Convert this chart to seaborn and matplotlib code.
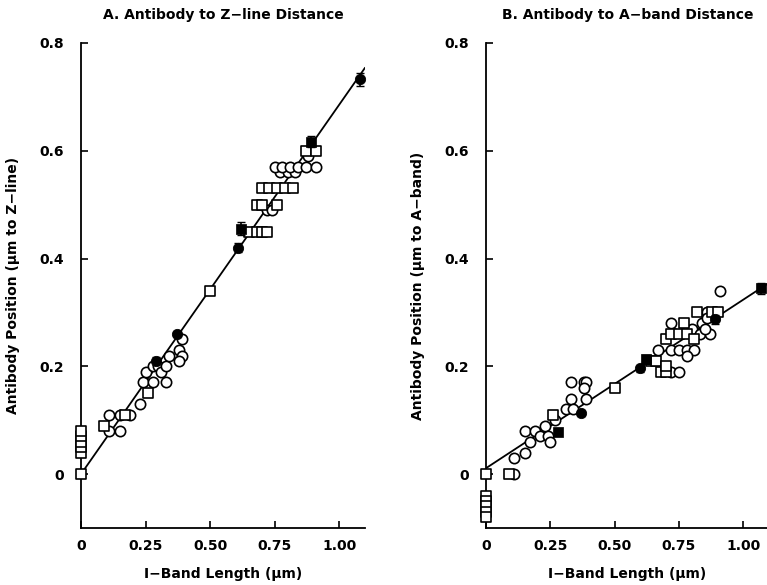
import pandas as pd
import seaborn as sns
import matplotlib.pyplot as plt

# Panel A: antibody to Z-line distance
a_open_circle_x = [0.11, 0.11, 0.15, 0.15, 0.19, 0.23, 0.24, 0.28, 0.25, 0.28, 0.30, 0.31,
                   0.33, 0.33, 0.34, 0.39, 0.38, 0.39, 0.38,
                   0.72, 0.74, 0.77, 0.80, 0.83, 0.75, 0.78, 0.81, 0.84, 0.87, 0.91, 0.88]
a_open_circle_y = [0.11, 0.08, 0.08, 0.11, 0.11, 0.13, 0.17, 0.17, 0.19, 0.20, 0.20, 0.19,
                   0.17, 0.20, 0.22, 0.25, 0.23, 0.22, 0.21,
                   0.49, 0.49, 0.56, 0.56, 0.56, 0.57, 0.57, 0.57, 0.57, 0.57, 0.57, 0.59]
a_open_square_x = [0, 0, 0, 0, 0, 0, 0.09, 0.17, 0.26, 0.50,
                   0.65, 0.68, 0.70, 0.72, 0.68, 0.70, 0.76, 0.70, 0.73, 0.76, 0.79, 0.82,
                   0.87, 0.91]
a_open_square_y = [0, 0.04, 0.05, 0.06, 0.07, 0.08, 0.09, 0.11, 0.15, 0.34,
                   0.45, 0.45, 0.45, 0.45, 0.50, 0.50, 0.50, 0.53, 0.53, 0.53, 0.53, 0.53,
                   0.60, 0.60]
a_filled_circle_x = [0.29, 0.37, 0.61, 1.08]
a_filled_circle_y = [0.21, 0.26, 0.42, 0.733]
a_filled_circle_err = [0.008, 0.006, 0.008, 0.012]
a_filled_square_x = [0.62, 0.89]
a_filled_square_y = [0.455, 0.617]
a_filled_square_err = [0.012, 0.01]
a_fit_x = [0, 1.1]
a_fit_y = [0, 0.754]

# Panel B: antibody to A-band distance
b_open_circle_x = [0.11, 0.11, 0.15, 0.17, 0.15, 0.19, 0.21, 0.23, 0.24, 0.25, 0.27, 0.31,
                   0.33, 0.33, 0.34, 0.38, 0.39, 0.38, 0.39,
                   0.72, 0.75, 0.67, 0.72, 0.72, 0.75, 0.78, 0.81, 0.78, 0.80, 0.86, 0.84,
                   0.83, 0.87, 0.85, 0.86, 0.91]
b_open_circle_y = [0.0, 0.03, 0.04, 0.06, 0.08, 0.08, 0.07, 0.09, 0.07, 0.06, 0.10, 0.12,
                   0.14, 0.17, 0.12, 0.17, 0.17, 0.16, 0.14,
                   0.19, 0.19, 0.23, 0.28, 0.23, 0.23, 0.23, 0.23, 0.22, 0.27, 0.30, 0.28,
                   0.26, 0.26, 0.27, 0.29, 0.34]
b_open_square_x = [0, 0, 0, 0, 0, 0, 0.09, 0.26, 0.50, 0.64, 0.66,
                   0.68, 0.70, 0.70, 0.70, 0.72, 0.75, 0.78, 0.77, 0.81, 0.82, 0.88, 0.90]
b_open_square_y = [0, -0.04, -0.05, -0.06, -0.07, -0.08, 0.0, 0.11, 0.16, 0.21, 0.21,
                   0.19, 0.19, 0.20, 0.25, 0.26, 0.26, 0.26, 0.28, 0.25, 0.30, 0.30, 0.30]
b_filled_circle_x = [0.37, 0.60, 0.89]
b_filled_circle_y = [0.113, 0.196, 0.287]
b_filled_circle_err = [0.006, 0.006, 0.008]
b_filled_square_x = [0.28, 0.62, 1.07]
b_filled_square_y = [0.078, 0.213, 0.345]
b_filled_square_err = [0.006, 0.008, 0.01]
b_fit_x = [0, 1.1]
b_fit_y = [0.011, 0.355]

xticks = [0, 0.25, 0.5, 0.75, 1.0]
xtick_labels = ["0", "0.25", "0.50", "0.75", "1.00"]
yticks = [0, 0.2, 0.4, 0.6, 0.8]
ytick_labels = ["0", "0.2", "0.4", "0.6", "0.8"]

sns.set_style("ticks")
plt.rcParams['font.family'] = ['DejaVu Sans']
plt.rcParams['font.weight'] = 'bold'
plt.rcParams['text.color'] = 'black'
plt.rcParams['axes.labelcolor'] = 'black'
plt.rcParams['xtick.color'] = 'black'
plt.rcParams['ytick.color'] = 'black'

fig = plt.figure(figsize=(7.67, 5.85), dpi=100)
ax_a = fig.add_axes([81 / 767, 57 / 585, 284 / 767, 485 / 585])
ax_b = fig.add_axes([486 / 767, 57 / 585, 283 / 767, 485 / 585])


def draw_panel(ax, oc_x, oc_y, os_x, os_y, fc_x, fc_y, fc_e, fs_x, fs_y, fs_e,
               fit_x, fit_y, title, ylabel):
    sns.lineplot(x=fit_x, y=fit_y, ax=ax, color='black', lw=1.3, zorder=2)
    sns.scatterplot(x=oc_x, y=oc_y, ax=ax, marker='o', s=55, facecolor='white',
                    edgecolor='black', linewidth=1.2, zorder=3, clip_on=False)
    sns.scatterplot(x=os_x, y=os_y, ax=ax, marker='s', s=42, facecolor='white',
                    edgecolor='black', linewidth=1.2, zorder=3, clip_on=False)
    ax.errorbar(fc_x, fc_y, yerr=fc_e, fmt='none', ecolor='black', elinewidth=1.2,
                capsize=3, zorder=4)
    sns.scatterplot(x=fc_x, y=fc_y, ax=ax, marker='o', s=55, color='black',
                    edgecolor='black', zorder=5, clip_on=False)
    ax.errorbar(fs_x, fs_y, yerr=fs_e, fmt='none', ecolor='black', elinewidth=1.2,
                capsize=3, zorder=4)
    sns.scatterplot(x=fs_x, y=fs_y, ax=ax, marker='s', s=42, color='black',
                    edgecolor='black', zorder=5, clip_on=False)

    ax.set_xlim(0, 1.1)
    ax.set_ylim(-0.1, 0.8)
    ax.set_xticks(xticks)
    ax.set_xticklabels(xtick_labels)
    ax.set_yticks(yticks)
    ax.set_yticklabels(ytick_labels)
    ax.tick_params(direction='in', length=5, width=1.2, labelsize=10, color='black',
                   labelcolor='black')
    ax.tick_params(axis='y', pad=12)
    ax.tick_params(axis='x', pad=8)
    for lbl in ax.get_xticklabels() + ax.get_yticklabels():
        lbl.set_fontweight('bold')
    sns.despine(ax=ax)
    for sp in ['left', 'bottom']:
        ax.spines[sp].set_linewidth(1.3)
        ax.spines[sp].set_color('black')
    ax.set_title(title, fontsize=10, fontweight='bold', pad=17, color='black')
    ax.set_xlabel("I\u2212Band Length (\u03bcm)", fontsize=10, fontweight='bold',
                  labelpad=10)
    ax.set_ylabel(ylabel, fontsize=10, fontweight='bold', labelpad=14)


draw_panel(ax_a, a_open_circle_x, a_open_circle_y, a_open_square_x, a_open_square_y,
           a_filled_circle_x, a_filled_circle_y, a_filled_circle_err,
           a_filled_square_x, a_filled_square_y, a_filled_square_err,
           a_fit_x, a_fit_y, "A. Antibody to Z\u2212line Distance",
           "Antibody Position (\u03bcm to Z\u2212line)")
draw_panel(ax_b, b_open_circle_x, b_open_circle_y, b_open_square_x, b_open_square_y,
           b_filled_circle_x, b_filled_circle_y, b_filled_circle_err,
           b_filled_square_x, b_filled_square_y, b_filled_square_err,
           b_fit_x, b_fit_y, "B. Antibody to A\u2212band Distance",
           "Antibody Position (\u03bcm to A\u2212band)")

fig.savefig("out.png", dpi=100)
